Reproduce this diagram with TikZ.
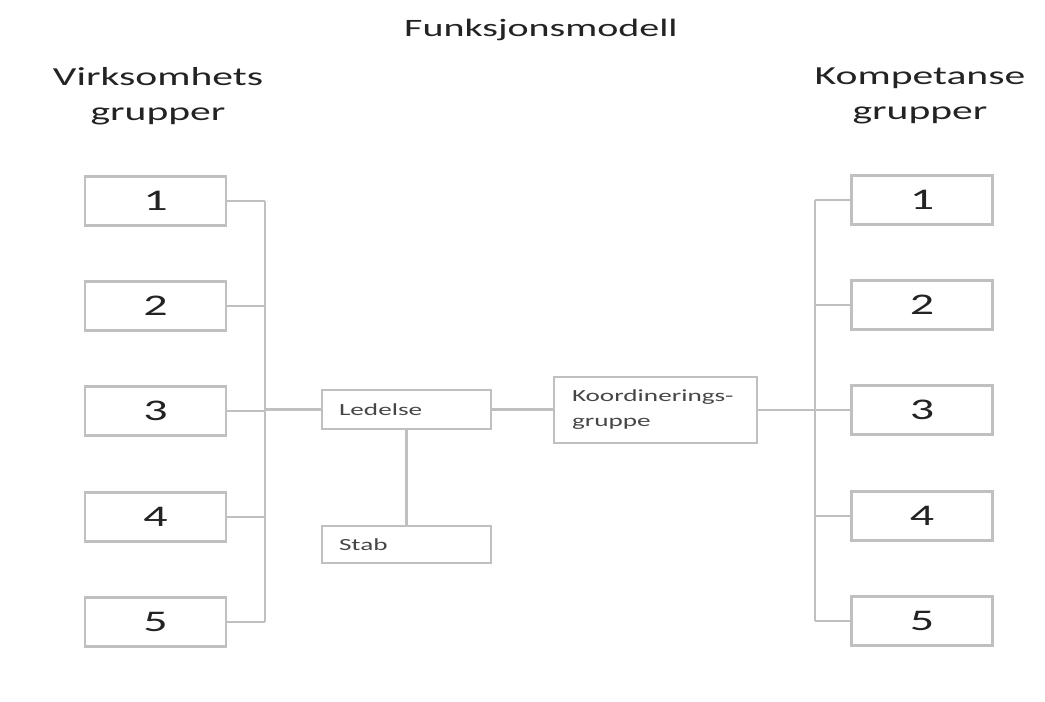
\documentclass[tikz,border=0pt]{standalone}
\usepackage{fontspec}
\usepackage{graphicx}
\setmainfont{Carlito}
\definecolor{lg}{RGB}{192,192,192}
\definecolor{tx}{RGB}{35,35,35}
\definecolor{tx2}{RGB}{70,70,70}
\newcommand{\stretchtxt}[1]{\scalebox{1.6}[1]{#1}}
\begin{document}
\begin{tikzpicture}[x=1pt,y=-1pt,
  gbox/.style={draw=lg,line width=2.5pt,fill=white,inner sep=0pt},
  numbox/.style={gbox,text=tx,minimum width=141pt,minimum height=49pt,font=\fontsize{30}{32}\selectfont},
  smallbox/.style={gbox,text=tx2,minimum width=169pt,inner xsep=17pt,text width=135pt,align=left,font=\fontsize{17}{25}\selectfont},
  conn/.style={draw=lg,line width=2.5pt},
  title/.style={text=tx,font=\fontsize{25}{35}\selectfont,align=center}]
\useasboundingbox (0,0) rectangle (1045,702);
\fill[white] (0,0) rectangle (1045,702);
\node[title] (t) at (541,30) {\stretchtxt{Funksjonsmodell}};
\node[title,font=\fontsize{26}{35}\selectfont] (vl) at (158,96) {\stretchtxt{Virksomhets}\\\stretchtxt{grupper}};
\node[title,font=\fontsize{26}{35}\selectfont] (kl) at (920,96) {\stretchtxt{Kompetanse}\\\stretchtxt{grupper}};
\foreach \i/\y in {1/201,2/306,3/411,4/517,5/622}{
  \node[numbox] (L\i) at (155.5,\y) {\stretchtxt{\i}};
  \node[numbox] (R\i) at (922,\y-1) {\stretchtxt{\i}};
  \coordinate (LJ\i) at (265,\y);
  \coordinate (RJ\i) at (815,\y-1);
}
\node[smallbox,minimum height=39pt] (led) at (406.5,409.5) {\stretchtxt{Ledelse}};
\node[smallbox,minimum height=37pt] (stab) at (406.5,544.5) {\stretchtxt{Stab}};
\node[smallbox,minimum width=203pt,minimum height=66pt,inner xsep=18pt,text width=167pt] (koo) at (655.5,410) {\stretchtxt{Koordinerings-}\\\stretchtxt{gruppe}};
% left connectors
\draw[conn] (LJ1) -- (LJ5);
\foreach \i in {1,...,5}{\draw[conn] (L\i.east) -- (LJ\i);}
\draw[conn] (LJ3 |- led.west) -- (led.west);
\draw[conn] (led.south) -- (stab.north);
\draw[conn] (led.east) -- (koo.west |- led.east);
% right connectors
\draw[conn] (RJ1) -- (RJ5);
\foreach \i in {1,...,5}{\draw[conn] (RJ\i) -- (R\i.west);}
\draw[conn] (koo.east) -- (RJ3 |- koo.east);
\end{tikzpicture}
\end{document}
